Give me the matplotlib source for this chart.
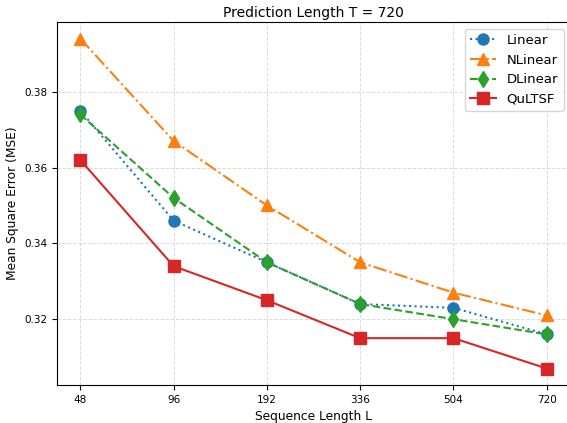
import matplotlib
matplotlib.use('Agg')
import matplotlib.pyplot as plt

# 数据
seq_labels = ['48', '96', '192', '336', '504', '720']
linear = [0.375, 0.346, 0.335, 0.324, 0.323, 0.316]
nlinear = [0.394, 0.367, 0.350, 0.335, 0.327, 0.321]
dlinear = [0.374, 0.352, 0.335, 0.324, 0.320, 0.316]
qultsf = [0.362, 0.334, 0.325, 0.315, 0.315, 0.307]

fig = plt.figure(figsize=(5.67, 4.23), dpi=100)
ax = fig.add_axes([0.1005, 0.0898, 0.905, 0.858])

x = range(len(seq_labels))
ax.plot(x, linear, color='#1f77b4', linestyle=':', marker='o', markersize=8, linewidth=1.5, label='Linear')
ax.plot(x, nlinear, color='#ff7f0e', linestyle='-.', marker='^', markersize=8, linewidth=1.5, label='NLinear')
ax.plot(x, dlinear, color='#2ca02c', linestyle='--', marker='d', markersize=8, linewidth=1.5, label='DLinear')
ax.plot(x, qultsf, color='#d62728', linestyle='-', marker='s', markersize=8, linewidth=1.5, label='QuLTSF')

ax.set_xticks(list(x))
ax.set_xticklabels(seq_labels)
ax.set_yticks([0.32, 0.34, 0.36, 0.38])
ax.tick_params(labelsize=7.5)
ax.set_xlabel('Sequence Length L', fontsize=8.8)
ax.set_ylabel('Mean Square Error (MSE)', fontsize=8.8)
ax.set_title('Prediction Length T = 720', fontsize=10, pad=4)
ax.grid(True, linestyle='--', alpha=0.45, linewidth=0.7)
ax.legend(loc='upper right', fontsize=9.5)

plt.savefig('out.png', dpi=100)
